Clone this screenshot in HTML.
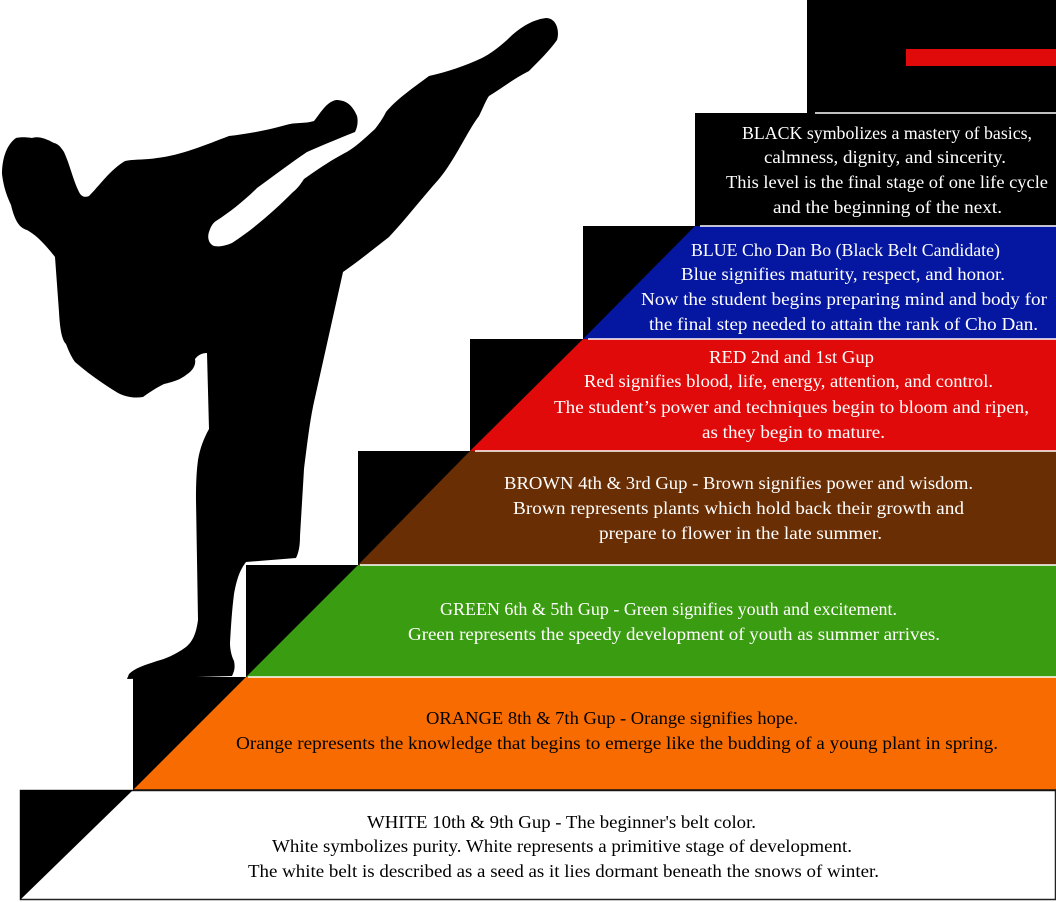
<!DOCTYPE html>
<html><head><meta charset="utf-8"><style>html,body{margin:0;padding:0;background:#fff}svg{display:block}text{font-family:"Liberation Serif",serif;font-size:18px}</style></head>
<body>
<svg width="1056" height="902" viewBox="0 0 1056 902" xmlns="http://www.w3.org/2000/svg">
<rect x="0" y="0" width="1056" height="902" fill="#fff"/>
<rect x="807" y="0" width="249" height="113" fill="#000"/>
<rect x="906" y="49" width="150" height="17" fill="#e10a0a"/>
<rect x="695" y="113" width="361" height="113" fill="#000"/>
<rect x="583" y="226" width="473" height="113" fill="#000"/>
<polygon points="695,226 1056,226 1056,339 583,339" fill="#0516a0"/>
<rect x="470" y="339" width="586" height="112" fill="#000"/>
<polygon points="583,339 1056,339 1056,451 470,451" fill="#e10a0a"/>
<rect x="358" y="451" width="698" height="114" fill="#000"/>
<polygon points="470,451 1056,451 1056,565 358,565" fill="#6a2e04"/>
<rect x="246" y="565" width="810" height="112" fill="#000"/>
<polygon points="358,565 1056,565 1056,677 246,677" fill="#3a9c10"/>
<rect x="133" y="677" width="923" height="113" fill="#000"/>
<polygon points="246,677 1056,677 1056,790 133,790" fill="#f76b00"/>
<rect x="20.5" y="790.5" width="1035" height="109" fill="#fff" stroke="#222" stroke-width="1.5"/>
<polygon points="20,790 133,790 20,900" fill="#000"/>
<g stroke="#fff" stroke-width="1.5">
<line x1="815" y1="113" x2="1056" y2="113"/>
<line x1="700" y1="226" x2="1056" y2="226"/>
<line x1="588" y1="339" x2="1056" y2="339"/>
<line x1="475" y1="451" x2="1056" y2="451"/>
<line x1="360" y1="565" x2="1056" y2="565"/>
<line x1="248" y1="677" x2="1056" y2="677"/>
</g>
<line x1="133" y1="790" x2="1056" y2="790" stroke="#111" stroke-width="1.5"/>
<path fill="#000" d="M16,138 C6,145 2,160 2,174 C4,190 8,198 11,205 C15,222 20,228 27,230 C38,236 48,248 55,257 L59,312 C60,330 62,340 66,344 C69,352 72,358 75,362 C90,375 105,385 118,393 C128,398 136,398 143,397 C150,392 156,388 164,384 C172,382 180,380 186,375 C194,370 196,364 195,359 C198,355 202,353 207,353 L209,429 C204,438 200,448 198,460 C196,475 196,490 196,500 L198,620 C196,635 192,642 186,647 C175,655 165,659 157,661 C145,665 135,668 129,674 L127,679 L232,676 C235,670 235,666 234,661 C231,655 230,648 230,643 C231,625 232,610 234,594 C237,578 240,570 246,562 L296,558 C299,552 300,545 300,536 L304,469 C307,445 310,420 314,402 L343,272 C360,260 375,248 389,237 C405,220 422,198 439,179 C455,160 468,130 479,116 C483,108 486,100 489,96 C502,88 515,78 529,71 C540,60 550,50 557,40 C560,30 556,18 546,18 C530,20 517,30 507,40 C498,48 490,54 482,58 C465,66 447,72 429,76 C410,90 396,100 386,112 C382,120 378,125 375,129 C365,138 355,148 343,154 C328,162 314,172 304,179 C300,185 297,189 293,192 C275,210 255,228 232,243 C225,246 219,247 214,246 C209,244 207,238 209,232 C211,226 213,223 216,221 C230,212 245,200 257,188 C275,175 292,162 307,152 C323,145 340,138 355,132 C358,126 358,120 357,116 C352,104 345,100 336,100 C326,102 320,114 314,121 C305,124 295,122 286,125 C268,130 248,134 229,136 C205,145 182,155 157,158 C145,160 135,159 125,161 C110,170 100,185 89,196 C84,198 81,196 79,192 C73,180 70,165 64,152 C60,146 58,144 54,143 C45,138 38,136 32,138 C26,137 20,137 16,138 Z"/>
<g fill="#fff">
<text x="742" y="139" textLength="290" lengthAdjust="spacingAndGlyphs">BLACK symbolizes a mastery of basics,</text>
<text x="764" y="163" textLength="242" lengthAdjust="spacingAndGlyphs">calmness, dignity, and sincerity.</text>
<text x="726" y="188" textLength="322" lengthAdjust="spacingAndGlyphs">This level is the final stage of one life cycle</text>
<text x="773" y="213" textLength="229" lengthAdjust="spacingAndGlyphs">and the beginning of the next.</text>
<text x="691" y="256" textLength="309" lengthAdjust="spacingAndGlyphs">BLUE Cho Dan Bo (Black Belt Candidate)</text>
<text x="681" y="280" textLength="324" lengthAdjust="spacingAndGlyphs">Blue signifies maturity, respect, and honor.</text>
<text x="641" y="305" textLength="406" lengthAdjust="spacingAndGlyphs">Now the student begins preparing mind and body for</text>
<text x="649" y="330" textLength="389" lengthAdjust="spacingAndGlyphs">the final step needed to attain the rank of Cho Dan.</text>
<text x="709" y="363" textLength="165" lengthAdjust="spacingAndGlyphs">RED 2nd and 1st Gup</text>
<text x="584" y="387" textLength="409" lengthAdjust="spacingAndGlyphs">Red signifies blood, life, energy, attention, and control.</text>
<text x="554" y="413" textLength="475" lengthAdjust="spacingAndGlyphs">The student’s power and techniques begin to bloom and ripen,</text>
<text x="702" y="438" textLength="183" lengthAdjust="spacingAndGlyphs">as they begin to mature.</text>
<text x="504" y="489" textLength="469" lengthAdjust="spacingAndGlyphs">BROWN 4th &amp; 3rd Gup - Brown signifies power and wisdom.</text>
<text x="513" y="514" textLength="451" lengthAdjust="spacingAndGlyphs">Brown represents plants which hold back their growth and</text>
<text x="599" y="539" textLength="283" lengthAdjust="spacingAndGlyphs">prepare to flower in the late summer.</text>
<text x="440" y="615" textLength="457" lengthAdjust="spacingAndGlyphs">GREEN 6th &amp; 5th Gup - Green signifies youth and excitement.</text>
<text x="408" y="640" textLength="532" lengthAdjust="spacingAndGlyphs">Green represents the speedy development of youth as summer arrives.</text>
</g>
<g fill="#000">
<text x="426" y="724" textLength="372" lengthAdjust="spacingAndGlyphs">ORANGE 8th &amp; 7th Gup - Orange signifies hope.</text>
<text x="236" y="749" textLength="762" lengthAdjust="spacingAndGlyphs">Orange represents the knowledge that begins to emerge like the budding of a young plant in spring.</text>
<text x="367" y="828" textLength="389" lengthAdjust="spacingAndGlyphs">WHITE 10th &amp; 9th Gup - The beginner's belt color.</text>
<text x="272" y="852" textLength="580" lengthAdjust="spacingAndGlyphs">White symbolizes purity. White represents a primitive stage of development.</text>
<text x="248" y="877" textLength="631" lengthAdjust="spacingAndGlyphs">The white belt is described as a seed as it lies dormant beneath the snows of winter.</text>
</g>
</svg>
</body></html>
